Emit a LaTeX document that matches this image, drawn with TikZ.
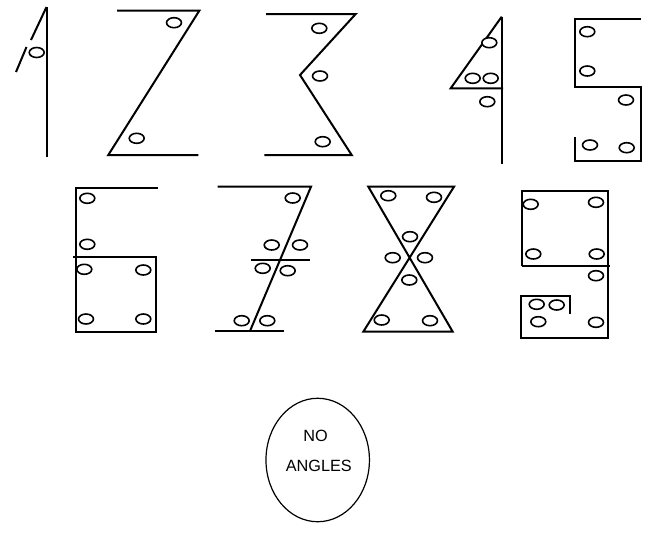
\documentclass[tikz,border=0pt]{standalone}
\usepackage{fontspec}
\setmainfont{Liberation Sans}
\begin{document}
\begin{tikzpicture}[x=0.75pt,y=-0.75pt,
  stroke/.style={line width=1.5pt,line join=miter,line cap=butt},
  dotc/.style={line width=1.2pt,fill=white,x radius=5.6pt,y radius=3.75pt},
  label/.style={font=\fontsize{12.2pt}{14pt}\selectfont,inner sep=0pt}]
\useasboundingbox (0,0) rectangle (671,533);
% 1
\draw[stroke] (46.5,7) -- (46.5,157);
\draw[stroke] (46.5,7) -- (31,40);
\draw[stroke] (26.5,47) -- (16,72);
\draw[dotc] (36.7,52.5) ellipse[];
% 2
\draw[stroke] (117,10.7) -- (199.3,10.7) -- (108.3,155) -- (198.3,155);
\foreach \p in {(174,22.7),(136.7,138.3)} \draw[dotc] \p ellipse[];
% 3
\draw[stroke] (266,14) -- (355.7,14) -- (300,75) -- (351.7,155) -- (264.3,155);
\foreach \p in {(319.3,28.3),(320,76),(322.7,141.7)} \draw[dotc] \p ellipse[];
% 4
\draw[stroke] (501.7,16.7) -- (501.7,164.3);
\draw[stroke] (501.7,16.7) -- (450.7,88.3) -- (503,88.3);
\foreach \p in {(489.3,42.7),(472.7,78.3),(490.7,78.3),(487.3,101.7)} \draw[dotc] \p ellipse[];
% 5
\draw[stroke] (640.7,18.7) -- (575,18.7) -- (575,87.3) -- (641,87.3) -- (641,161) -- (575,161) -- (575,136.7);
\foreach \p in {(587.3,31.7),(587.3,71),(626,100),(590,145),(626.7,147.7)} \draw[dotc] \p ellipse[];
% 6
\draw[stroke] (157.7,187.7) -- (75.7,187.7) -- (75.7,331.7) -- (155.7,331.7) -- (155.7,257.3) -- (73.3,257.3);
\foreach \p in {(87.3,198.3),(87.3,244.3),(84.3,269.3),(143.3,270),(86,319),(143.3,319)} \draw[dotc] \p ellipse[];
% 7
\draw[stroke] (217.7,186.7) -- (311,186.7) -- (250,331);
\draw[stroke] (215,331) -- (284.3,331);
\draw[stroke] (251,260) -- (310,260);
\foreach \p in {(292.7,198),(271.7,245),(300,245),(262.7,268.3),(287.7,270.7),(241.7,320.7),(267.3,320.7)} \draw[dotc] \p ellipse[];
% 8
\draw[stroke] (368.3,186.7) -- (454,186.7) -- (363.3,331.7) -- (452.7,331.7) -- cycle;
\foreach \p in {(388.3,195.7),(434,197.3),(410,236.7),(392.7,257.7),(425,257.7),(409.3,280),(381.7,320),(430,320.7)} \draw[dotc] \p ellipse[];
% 9
\draw[stroke] (521.7,265.7) -- (521.7,190.7) -- (607.7,190.7) -- (607.7,338.3) -- (520.7,338.3) -- (520.7,295.7) -- (570,295.7) -- (570,314.3);
\draw[stroke] (521.7,265.7) -- (610,265.7);
\foreach \p in {(530.7,204.3),(596,202.3),(533.3,254),(596.7,254),(596,275.7),(536.7,304.3),(556.7,305),(538.3,321.7),(596,322.3)} \draw[dotc] \p ellipse[];
% ellipse with text
\draw[line width=0.9pt] (317.7,460) ellipse[x radius=38.8pt,y radius=46.3pt];
\node[label] (no) at (315.5,436) {NO};
\node[label] (angles) at (318.8,466) {ANGLES};
\end{tikzpicture}
\end{document}
